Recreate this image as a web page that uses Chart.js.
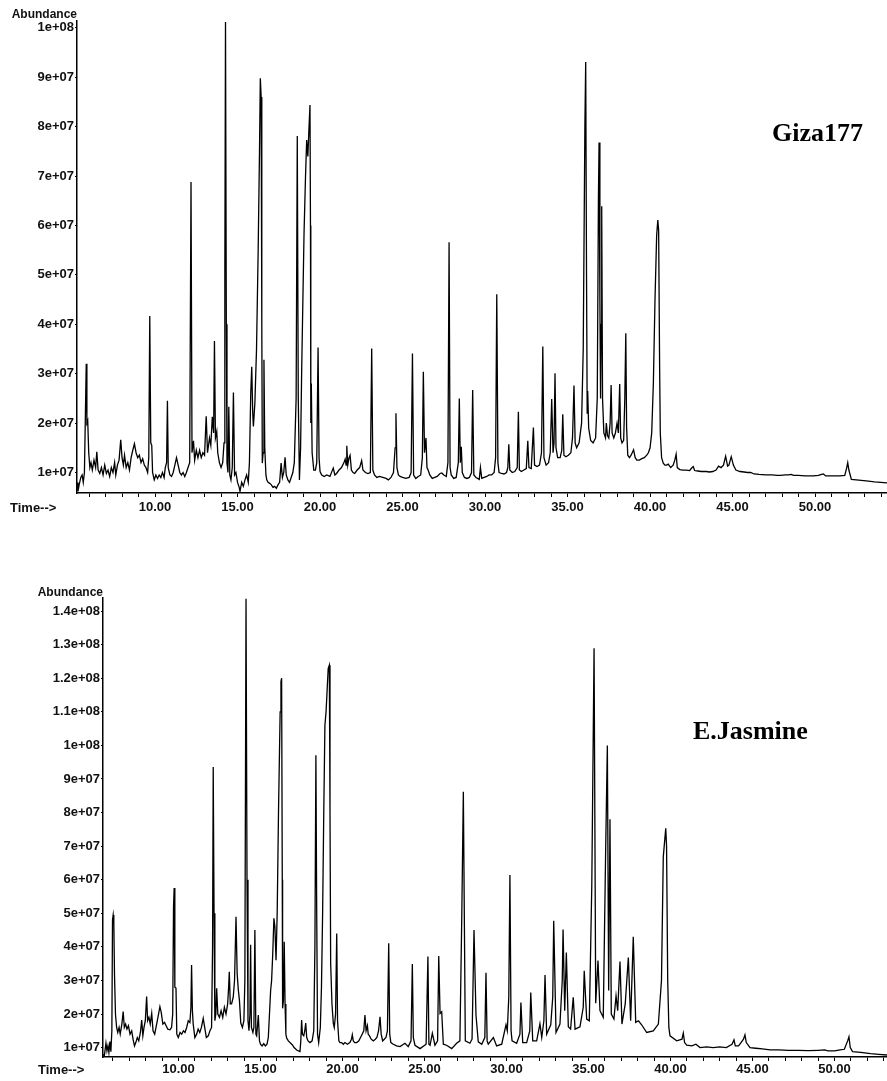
<!DOCTYPE html>
<html>
<head>
<meta charset="utf-8">
<title>GC-MS chromatograms</title>
<script src="https://cdn.jsdelivr.net/npm/chart.js@4/dist/chart.umd.min.js"></script>
<style>
    body { margin: 0; background: #fff; width: 887px; height: 1081px; position: relative; overflow: hidden; }
    .box { position: absolute; left: 0; width: 887px; }
    .lbl { position: absolute; font: bold 12px "Liberation Sans", Arial, sans-serif; color: #111; white-space: nowrap; line-height: 14px; }
    .time { font-size: 13px; }
    .name { position: absolute; font: bold 26px "Liberation Serif", "Times New Roman", serif; color: #000; white-space: nowrap; line-height: 30px; }
</style>
</head>
<body>
<div class="box" style="top:0;height:530px"><canvas id="gizaChart" width="887" height="530"></canvas></div>
<div class="box" style="top:560px;height:521px"><canvas id="jasmineChart" width="887" height="521"></canvas></div>

<div class="lbl" style="left:0;width:77px;text-align:right;top:7px">Abundance</div>
<div class="lbl time" style="left:10px;top:501px">Time--&gt;</div>
<div class="name" style="left:772px;top:118px">Giza177</div>

<div class="lbl" style="left:0;width:103px;text-align:right;top:585px">Abundance</div>
<div class="lbl time" style="left:38px;top:1063px">Time--&gt;</div>
<div class="name" style="left:693px;top:716px">E.Jasmine</div>

<script>
// abundance values below are in units of 1e7
const ABUND_UNIT = 1e7;

// Giza177 trace: [retention time (min), abundance]
const gizaTrace = [
    [5.27,0.80],[5.33,0.62],[5.40,0.75],[5.50,0.90],[5.58,0.95],[5.65,0.80],[5.72,1.00],[5.80,2.60],[5.83,3.20],[5.87,2.00],
    [5.92,2.05],[5.98,1.40],[6.05,1.10],[6.12,1.20],[6.20,1.05],[6.30,1.25],[6.40,1.10],[6.47,1.42],[6.55,1.05],[6.65,0.98],
    [6.75,1.10],[6.85,0.95],[6.95,1.15],[7.05,0.98],[7.15,1.05],[7.25,0.92],[7.35,1.10],[7.45,1.00],[7.55,1.20],[7.62,0.95],
    [7.72,1.15],[7.82,1.25],[7.92,1.66],[8.00,1.30],[8.08,1.15],[8.15,1.35],[8.25,1.10],[8.35,1.20],[8.45,1.05],[8.55,1.30],
    [8.65,1.45],[8.75,1.58],[8.85,1.40],[8.95,1.30],[9.05,1.35],[9.15,1.20],[9.25,1.28],[9.35,1.15],[9.45,1.10],[9.55,1.00],
    [9.62,1.30],[9.68,4.17],[9.74,1.60],[9.80,1.55],[9.85,1.00],[9.95,0.85],[10.05,0.95],[10.15,0.88],[10.25,0.95],[10.35,0.90],
    [10.45,1.00],[10.55,0.90],[10.62,1.10],[10.70,1.20],[10.75,2.45],[10.80,1.10],[10.90,0.95],[11.00,0.92],[11.10,1.00],[11.20,1.15],
    [11.30,1.30],[11.40,1.15],[11.50,1.00],[11.60,0.95],[11.70,1.00],[11.80,0.92],[11.90,1.00],[12.00,1.10],[12.10,1.20],[12.18,6.88],
    [12.24,1.40],[12.33,1.64],[12.40,1.25],[12.50,1.45],[12.60,1.30],[12.70,1.45],[12.80,1.30],[12.90,1.40],[13.00,1.35],[13.10,2.14],
    [13.18,1.40],[13.30,1.70],[13.38,1.55],[13.47,2.13],[13.55,1.80],[13.60,3.66],[13.66,1.70],[13.74,1.83],[13.80,1.40],[13.90,1.20],
    [14.00,1.10],[14.10,1.20],[14.18,1.60],[14.23,5.00],[14.27,10.12],[14.32,4.00],[14.36,1.20],[14.42,1.00],[14.47,2.33],[14.53,0.95],
    [14.60,0.85],[14.68,1.10],[14.75,2.62],[14.82,0.95],[14.90,1.00],[15.00,0.80],[15.10,0.70],[15.15,0.62],[15.25,0.80],[15.35,0.72],
    [15.45,0.85],[15.55,0.95],[15.65,0.80],[15.72,1.20],[15.80,2.60],[15.86,3.14],[15.92,2.20],[15.96,1.93],[16.05,2.40],[16.15,3.50],
    [16.25,5.50],[16.33,7.50],[16.38,8.98],[16.43,8.60],[16.47,4.00],[16.50,1.19],[16.55,1.40],[16.60,3.28],[16.65,1.50],[16.72,0.95],
    [16.77,0.85],[16.85,0.80],[16.95,0.78],[17.05,0.75],[17.15,0.70],[17.25,0.72],[17.35,0.68],[17.45,0.75],[17.55,0.80],[17.64,1.19],
    [17.72,0.90],[17.80,1.00],[17.88,1.31],[17.95,0.95],[18.05,0.85],[18.15,0.80],[18.25,0.90],[18.35,1.00],[18.44,1.20],[18.55,2.50],
    [18.62,7.81],[18.68,2.50],[18.75,0.85],[18.82,1.50],[18.89,3.14],[18.96,4.50],[19.03,5.85],[19.12,7.00],[19.19,7.73],[19.26,7.40],
    [19.32,7.90],[19.39,8.44],[19.42,6.00],[19.44,2.00],[19.47,2.80],[19.52,1.40],[19.62,1.05],[19.72,1.05],[19.80,1.20],[19.88,3.53],
    [19.94,1.30],[20.00,1.02],[20.10,0.95],[20.25,0.92],[20.40,0.95],[20.60,0.92],[20.80,1.09],[20.90,0.95],[21.00,0.98],[21.15,1.05],
    [21.30,1.10],[21.45,1.20],[21.52,1.27],[21.58,1.15],[21.62,1.54],[21.68,1.15],[21.75,1.29],[21.82,1.35],[21.90,1.05],[22.00,1.00],
    [22.10,0.98],[22.25,1.05],[22.40,1.10],[22.52,1.24],[22.60,1.05],[22.75,1.00],[22.90,0.98],[23.05,1.00],[23.13,3.51],[23.20,1.05],
    [23.30,0.95],[23.44,0.90],[23.60,0.92],[23.80,0.90],[24.00,0.88],[24.14,0.85],[24.30,0.90],[24.45,1.00],[24.55,1.50],[24.60,2.20],
    [24.66,1.10],[24.75,0.95],[24.85,0.92],[25.00,0.90],[25.20,0.88],[25.40,0.90],[25.52,1.00],[25.60,3.41],[25.67,0.95],[25.80,0.88],
    [25.95,0.92],[26.10,0.95],[26.20,1.30],[26.26,3.04],[26.33,1.40],[26.42,1.70],[26.48,1.10],[26.55,1.05],[26.65,0.95],[26.80,0.88],
    [26.95,0.90],[27.10,0.92],[27.27,0.98],[27.38,0.99],[27.50,0.95],[27.65,0.92],[27.75,1.20],[27.82,5.66],[27.88,1.10],[27.95,0.95],
    [28.10,0.88],[28.25,0.90],[28.38,1.20],[28.44,2.50],[28.50,1.20],[28.56,1.52],[28.62,1.00],[28.75,0.90],[28.90,0.88],[29.05,0.90],
    [29.18,1.00],[29.25,2.67],[29.32,0.95],[29.45,0.90],[29.65,0.86],[29.72,1.10],[29.80,0.88],[29.95,0.90],[30.10,0.92],[30.25,0.95],
    [30.40,0.95],[30.55,1.00],[30.64,1.30],[30.71,4.61],[30.78,1.20],[30.85,1.00],[31.00,0.98],[31.15,0.97],[31.30,1.00],[31.38,1.10],
    [31.44,1.57],[31.50,1.05],[31.65,1.00],[31.80,1.02],[31.95,1.10],[32.02,2.23],[32.08,1.05],[32.20,1.02],[32.35,1.05],[32.50,1.08],
    [32.59,1.64],[32.66,1.10],[32.80,1.08],[32.93,1.91],[33.00,1.15],[33.15,1.12],[33.30,1.15],[33.42,1.40],[33.50,3.55],[33.57,1.30],
    [33.70,1.15],[33.85,1.20],[33.95,1.40],[34.04,2.49],[34.12,1.40],[34.18,1.60],[34.24,3.01],[34.30,1.50],[34.40,1.30],[34.55,1.30],
    [34.65,1.45],[34.71,2.18],[34.78,1.35],[34.90,1.32],[35.05,1.35],[35.20,1.40],[35.30,1.70],[35.39,2.76],[35.46,1.60],[35.55,1.50],
    [35.70,1.60],[35.85,2.00],[35.95,3.50],[36.05,8.00],[36.10,9.31],[36.15,5.00],[36.19,2.20],[36.22,2.65],[36.28,1.90],[36.40,1.65],
    [36.55,1.60],[36.70,1.70],[36.80,2.50],[36.87,6.50],[36.91,7.68],[36.96,4.50],[37.00,2.50],[37.04,4.00],[37.07,6.39],[37.12,2.50],
    [37.20,1.80],[37.30,1.70],[37.35,2.00],[37.42,1.75],[37.50,1.70],[37.58,2.00],[37.64,2.77],[37.70,1.80],[37.80,1.70],[37.90,1.80],
    [38.00,2.00],[38.08,1.80],[38.16,2.79],[38.22,1.70],[38.30,1.60],[38.40,1.65],[38.47,2.50],[38.53,3.82],[38.58,1.90],[38.65,1.35],
    [38.75,1.30],[38.85,1.35],[39.00,1.46],[39.10,1.30],[39.20,1.25],[39.35,1.25],[39.50,1.28],[39.65,1.30],[39.80,1.35],[39.90,1.40],
    [40.00,1.50],[40.10,1.80],[40.20,2.80],[40.30,4.50],[40.40,5.80],[40.47,6.11],[40.52,5.90],[40.58,3.14],[40.62,1.80],[40.70,1.30],
    [40.80,1.19],[40.90,1.15],[41.00,1.15],[41.10,1.17],[41.25,1.10],[41.40,1.15],[41.50,1.25],[41.58,1.37],[41.65,1.10],[41.80,1.06],
    [42.00,1.05],[42.20,1.05],[42.40,1.04],[42.55,1.10],[42.62,1.12],[42.70,1.04],[42.90,1.03],[43.10,1.02],[43.40,1.02],[43.60,1.01],
    [43.80,1.02],[44.00,1.05],[44.15,1.13],[44.30,1.10],[44.45,1.15],[44.58,1.33],[44.70,1.13],[44.78,1.15],[44.92,1.32],[45.05,1.15],
    [45.20,1.05],[45.45,1.02],[45.70,1.01],[45.90,1.00],[46.10,1.00],[46.30,0.97],[46.60,0.96],[47.00,0.95],[47.40,0.95],[47.70,0.94],
    [47.90,0.94],[48.20,0.95],[48.40,0.95],[48.55,0.96],[48.70,0.94],[49.00,0.94],[49.40,0.93],[49.70,0.93],[49.90,0.93],[50.20,0.94],
    [50.40,0.96],[50.50,0.97],[50.65,0.93],[51.00,0.93],[51.50,0.93],[51.80,0.94],[51.92,1.10],[51.98,1.20],[52.05,1.05],[52.20,0.86],
    [52.50,0.85],[53.10,0.83],[53.60,0.81],[54.36,0.79]
];

// E.Jasmine trace: [retention time (min), abundance]
const jasmineTrace = [
    [5.40,0.80],[5.48,0.75],[5.58,1.13],[5.64,0.90],[5.70,1.05],[5.76,0.85],[5.82,1.18],[5.88,0.88],[5.94,1.50],[5.98,4.80],
    [6.02,4.95],[6.06,4.70],[6.10,3.20],[6.16,2.00],[6.23,1.60],[6.30,1.45],[6.38,1.60],[6.45,1.40],[6.55,1.70],[6.63,2.07],
    [6.70,1.60],[6.78,1.70],[6.86,1.55],[6.95,1.65],[7.05,1.40],[7.15,1.50],[7.24,1.23],[7.32,1.05],[7.40,1.15],[7.49,1.30],
    [7.58,1.20],[7.68,1.45],[7.76,1.82],[7.83,1.35],[7.90,1.60],[7.98,1.80],[8.06,2.52],[8.12,1.80],[8.20,1.90],[8.28,1.70],
    [8.37,2.02],[8.45,1.50],[8.55,1.40],[8.65,1.65],[8.75,1.90],[8.87,2.22],[8.95,2.05],[9.05,1.70],[9.15,1.75],[9.25,1.65],
    [9.35,1.55],[9.48,1.53],[9.58,1.60],[9.65,2.00],[9.70,5.20],[9.74,5.75],[9.78,2.80],[9.85,2.77],[9.90,1.40],[9.99,1.30],
    [10.10,1.45],[10.20,1.40],[10.30,1.50],[10.40,1.45],[10.50,1.60],[10.60,1.80],[10.70,1.75],[10.76,2.20],[10.80,3.46],[10.85,2.10],
    [10.90,1.70],[11.00,1.30],[11.11,1.40],[11.20,1.55],[11.30,1.45],[11.40,1.60],[11.51,1.87],[11.60,1.60],[11.70,1.30],[11.82,1.35],
    [11.92,1.50],[12.02,1.60],[12.08,4.00],[12.12,9.36],[12.17,5.00],[12.22,1.80],[12.28,2.00],[12.33,2.77],[12.40,2.00],[12.50,1.90],
    [12.60,2.10],[12.70,1.90],[12.80,2.20],[12.90,2.00],[13.00,2.30],[13.06,2.80],[13.10,3.26],[13.16,2.30],[13.24,2.30],[13.34,2.50],
    [13.42,3.00],[13.51,4.90],[13.58,3.20],[13.65,2.72],[13.72,2.40],[13.80,1.73],[13.90,1.60],[13.99,1.80],[14.05,3.00],[14.12,14.37],
    [14.18,6.00],[14.24,1.80],[14.30,1.50],[14.36,2.00],[14.40,4.06],[14.45,1.60],[14.54,1.45],[14.60,1.60],[14.66,4.50],[14.72,1.40],
    [14.77,1.35],[14.87,1.97],[14.94,1.20],[15.00,1.10],[15.10,1.05],[15.20,1.12],[15.30,1.05],[15.40,1.10],[15.48,1.30],[15.55,2.00],
    [15.62,2.70],[15.68,3.00],[15.75,3.80],[15.82,4.85],[15.88,4.60],[15.95,3.60],[16.02,5.00],[16.10,8.00],[16.20,11.00],[16.25,11.90],
    [16.29,12.00],[16.33,6.00],[16.35,2.17],[16.40,2.40],[16.45,4.15],[16.50,2.30],[16.55,1.40],[16.60,1.28],[16.70,1.20],[16.80,1.15],
    [16.95,1.08],[17.05,1.00],[17.21,0.93],[17.32,0.90],[17.41,0.88],[17.46,1.20],[17.51,1.82],[17.56,1.40],[17.64,1.35],[17.70,1.50],
    [17.76,1.73],[17.82,1.30],[17.90,1.20],[18.02,1.15],[18.15,1.20],[18.25,1.50],[18.32,4.00],[18.38,9.71],[18.43,5.00],[18.48,1.40],
    [18.55,1.15],[18.65,1.60],[18.72,2.80],[18.79,5.00],[18.86,8.00],[18.93,10.60],[19.00,11.00],[19.08,11.80],[19.13,12.29],[19.20,12.39],
    [19.24,8.00],[19.28,3.51],[19.36,2.30],[19.44,1.73],[19.50,1.60],[19.58,2.00],[19.65,4.40],[19.70,1.80],[19.78,1.20],[19.85,1.15],
    [19.95,1.15],[20.05,1.10],[20.15,1.15],[20.30,1.10],[20.45,1.15],[20.55,1.25],[20.60,1.38],[20.66,1.20],[20.75,1.15],[20.87,1.15],
    [21.00,1.20],[21.10,1.30],[21.20,1.40],[21.30,1.50],[21.37,1.97],[21.44,1.50],[21.52,1.65],[21.57,1.40],[21.65,1.35],[21.75,1.25],
    [21.88,1.20],[22.00,1.25],[22.10,1.30],[22.20,1.50],[22.29,1.92],[22.36,1.40],[22.45,1.20],[22.55,1.25],[22.65,1.30],[22.74,1.50],
    [22.82,4.11],[22.88,1.40],[22.95,1.15],[23.10,1.10],[23.30,1.05],[23.51,1.03],[23.81,1.13],[24.01,1.03],[24.18,1.20],[24.26,3.49],
    [24.32,1.30],[24.42,1.07],[24.73,0.97],[25.10,1.10],[25.21,3.71],[25.27,1.10],[25.34,1.07],[25.48,1.43],[25.64,1.07],[25.80,1.20],
    [25.87,3.73],[25.95,2.02],[26.05,2.07],[26.15,1.10],[26.35,1.07],[26.66,0.97],[26.96,1.13],[27.16,1.20],[27.27,4.75],[27.37,8.62],
    [27.49,1.20],[27.77,1.13],[27.90,1.25],[28.02,4.50],[28.14,1.97],[28.28,1.17],[28.49,1.10],[28.68,1.30],[28.75,3.23],[28.82,1.20],
    [28.89,1.10],[29.20,1.30],[29.40,1.05],[29.71,1.10],[29.97,1.68],[30.05,1.50],[30.14,2.50],[30.21,6.14],[30.28,1.50],[30.34,1.20],
    [30.62,1.13],[30.82,1.40],[30.88,2.34],[30.99,1.15],[31.23,1.15],[31.42,1.50],[31.48,2.64],[31.60,1.20],[31.84,1.20],[32.04,1.71],
    [32.15,1.30],[32.28,1.80],[32.35,3.16],[32.45,1.40],[32.70,1.68],[32.82,2.50],[32.88,4.78],[33.02,1.45],[33.26,1.70],[33.40,3.00],
    [33.45,4.52],[33.55,2.10],[33.65,3.83],[33.77,1.62],[33.91,1.55],[34.07,2.50],[34.18,1.55],[34.48,1.62],[34.68,2.20],[34.74,3.29],
    [34.89,1.85],[35.05,1.80],[35.20,5.79],[35.34,12.89],[35.44,2.32],[35.58,3.59],[35.70,2.10],[35.90,1.90],[36.05,6.98],[36.15,10.00],
    [36.23,2.70],[36.31,7.80],[36.39,2.00],[36.55,1.85],[36.68,2.54],[36.78,2.10],[36.92,3.56],[37.04,1.70],[37.24,2.30],[37.43,3.68],
    [37.57,1.80],[37.73,4.30],[37.88,1.75],[38.05,1.80],[38.24,1.68],[38.55,1.45],[38.95,1.50],[39.26,1.70],[39.45,3.00],[39.56,6.68],
    [39.71,7.53],[39.76,7.00],[39.83,3.00],[39.90,1.60],[39.97,1.35],[40.38,1.20],[40.70,1.25],[40.78,1.43],[40.86,1.15],[40.99,1.07],
    [41.30,1.05],[41.55,1.10],[41.80,1.00],[42.20,1.02],[42.60,1.00],[43.00,1.02],[43.40,1.00],[43.75,1.10],[43.87,1.23],[43.95,1.05],
    [44.15,1.05],[44.30,1.15],[44.45,1.25],[44.54,1.38],[44.62,1.15],[44.85,1.00],[45.20,0.98],[45.60,0.96],[46.07,0.93],[46.60,0.93],
    [47.20,0.92],[47.80,0.92],[48.40,0.91],[49.00,0.92],[49.40,0.93],[49.60,0.90],[50.00,0.90],[50.34,0.93],[50.60,0.95],[50.80,1.20],
    [50.88,1.32],[50.96,1.00],[51.10,0.88],[51.60,0.86],[52.20,0.82],[52.70,0.80],[53.20,0.78]
];

// y ticks (abundance, units of 1e7) and their printed labels
const gizaYTicks = [1, 2, 3, 4, 5, 6, 7, 8, 9, 10];
const gizaYLabels = ['1e+07', '2e+07', '3e+07', '4e+07', '5e+07', '6e+07', '7e+07', '8e+07', '9e+07', '1e+08'];
const jasmineYTicks = [1, 2, 3, 4, 5, 6, 7, 8, 9, 10, 11, 12, 13, 14];
const jasmineYLabels = ['1e+07', '2e+07', '3e+07', '4e+07', '5e+07', '6e+07', '7e+07', '8e+07', '9e+07',
                        '1e+08', '1.1e+08', '1.2e+08', '1.3e+08', '1.4e+08'];

// time axis: labelled every 5 min, minor tick every minute
const timeMajor = [10, 15, 20, 25, 30, 35, 40, 45, 50];
const timeMajorLabels = ['10.00', '15.00', '20.00', '25.00', '30.00', '35.00', '40.00', '45.00', '50.00'];
const gizaTimeTicks = [6,7,8,9,10,11,12,13,14,15,16,17,18,19,20,21,22,23,24,25,26,27,28,29,30,
                       31,32,33,34,35,36,37,38,39,40,41,42,43,44,45,46,47,48,49,50,51,52,53,54];
const jasmineTimeTicks = gizaTimeTicks.slice(0, 48); // 6 .. 53

const tickFont = { family: '"Liberation Sans", Arial, sans-serif', size: 13, weight: 'bold' };

function makeChromatogram(canvasId, trace, opt) {
    return new Chart(document.getElementById(canvasId).getContext('2d'), {
        type: 'line',
        data: {
            datasets: [{
                data: trace.map(p => ({ x: p[0], y: p[1] * ABUND_UNIT })),
                borderColor: '#000',
                borderWidth: 1.3,
                pointRadius: 0,
                tension: 0,
                fill: false
            }]
        },
        options: {
            responsive: false,
            animation: false,
            events: [],
            layout: { padding: { top: opt.padTop, right: 0, bottom: 0, left: 0 } },
            plugins: { legend: { display: false }, tooltip: { enabled: false } },
            scales: {
                x: {
                    type: 'linear',
                    min: opt.xMin,
                    max: opt.xMax,
                    afterBuildTicks: axis => { axis.ticks = opt.xTicks.map(v => ({ value: v })); },
                    afterFit: axis => { axis.height = opt.xHeight; },
                    ticks: {
                        autoSkip: false,
                        maxRotation: 0,
                        padding: opt.xPad,
                        color: '#111',
                        font: tickFont,
                        callback: v => {
                            let i = timeMajor.indexOf(v);
                            return i >= 0 ? timeMajorLabels[i] : '';
                        }
                    },
                    grid: { display: true, drawOnChartArea: false, drawTicks: true, tickLength: 4, tickColor: '#000', tickWidth: 1 },
                    border: { display: true, color: '#000', width: 1.5 }
                },
                y: {
                    type: 'linear',
                    min: opt.yMin * ABUND_UNIT,
                    max: opt.yMax * ABUND_UNIT,
                    afterBuildTicks: axis => { axis.ticks = opt.yTicks.map(v => ({ value: v * ABUND_UNIT })); },
                    afterFit: axis => { axis.width = opt.yWidth; },
                    ticks: {
                        padding: 1,
                        color: '#111',
                        font: tickFont,
                        callback: v => {
                            let i = opt.yTicks.indexOf(Math.round(v / ABUND_UNIT));
                            return i >= 0 ? opt.yLabels[i] : '';
                        }
                    },
                    grid: { display: true, drawOnChartArea: false, drawTicks: true, tickLength: 2, tickColor: '#000', tickWidth: 1 },
                    border: { display: true, color: '#000', width: 1.5 }
                }
            }
        }
    });
}

// top: Giza177
makeChromatogram('gizaChart', gizaTrace, {
    padTop: 21, xHeight: 37, xPad: 3, yWidth: 77,
    xMin: 5.27, xMax: 54.36, xTicks: gizaTimeTicks,
    yMin: 0.585, yMax: 10.14, yTicks: gizaYTicks, yLabels: gizaYLabels
});

// bottom: E.Jasmine
makeChromatogram('jasmineChart', jasmineTrace, {
    padTop: 38, xHeight: 24, xPad: 1, yWidth: 103,
    xMin: 5.40, xMax: 53.20, xTicks: jasmineTimeTicks,
    yMin: 0.72, yMax: 14.39, yTicks: jasmineYTicks, yLabels: jasmineYLabels
});
</script>
</body>
</html>
